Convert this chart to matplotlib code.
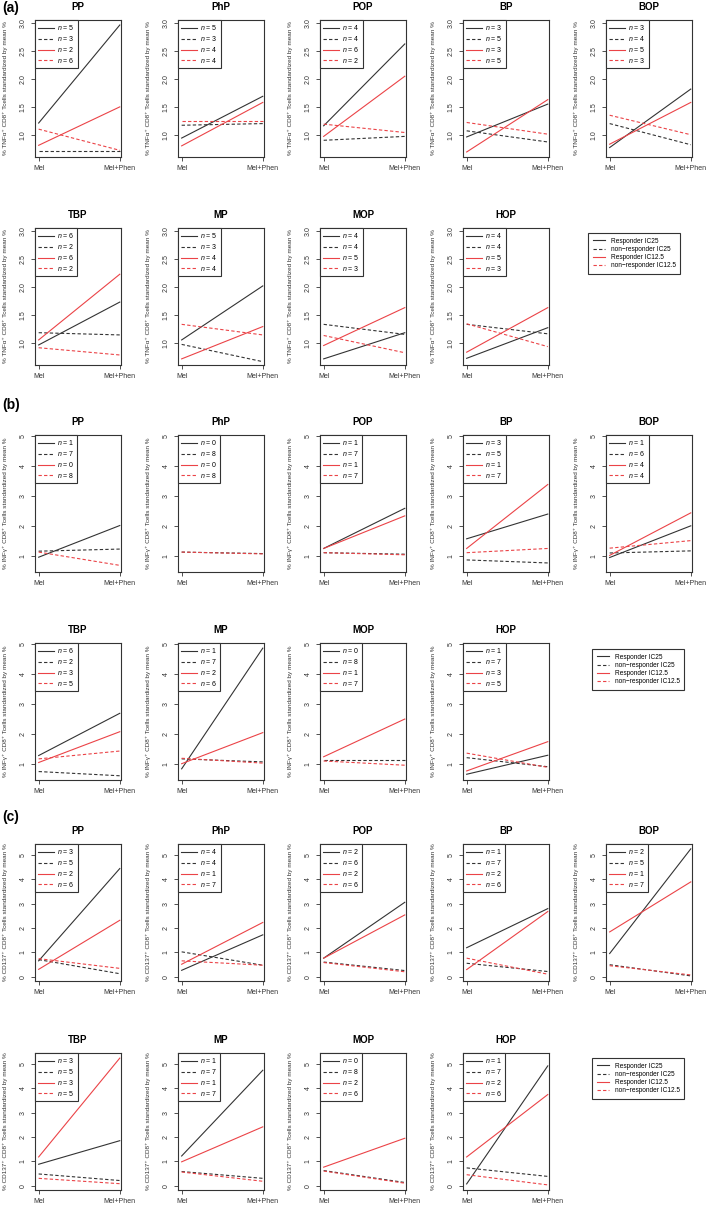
import numpy as np
import matplotlib
matplotlib.use('Agg')
from matplotlib import pyplot as plt
from matplotlib.lines import Line2D

plt.rcParams['font.family'] = ['Liberation Sans', 'DejaVu Sans']
plt.rcParams['mathtext.fontset'] = 'custom'
plt.rcParams['mathtext.rm'] = 'Liberation Sans'
plt.rcParams['mathtext.it'] = 'Liberation Sans:italic'

panels = ['PP', 'PhP', 'POP', 'BP', 'BOP', 'TBP', 'MP', 'MOP', 'HOP']
conds = ['Mel', 'Mel+Phen']
group_names = ['Responder IC25', 'non\u2212responder IC25',
               'Responder IC12.5', 'non\u2212responder IC12.5']

# (a) TNFa, (Mel, Mel+Phen) per panel
tnf_r25 = [(1.21, 2.97), (0.94, 1.69), (1.16, 2.63), (0.96, 1.55), (0.77, 1.82),
           (0.96, 1.73), (1.05, 2.02), (0.71, 1.18), (0.72, 1.27)]
tnf_nr25 = [(0.70, 0.70), (1.17, 1.20), (0.90, 0.97), (1.07, 0.87), (1.20, 0.82),
            (1.18, 1.14), (0.97, 0.66), (1.33, 1.15), (1.33, 1.16)]
tnf_r125 = [(0.81, 1.50), (0.80, 1.58), (0.97, 2.05), (0.69, 1.63), (0.83, 1.58),
            (1.05, 2.23), (0.71, 1.29), (0.95, 1.63), (0.83, 1.63)]
tnf_nr125 = [(1.10, 0.72), (1.25, 1.25), (1.19, 1.04), (1.22, 1.01), (1.35, 1.00),
             (0.91, 0.78), (1.33, 1.14), (1.13, 0.82), (1.34, 0.93)]
tnf_n = [(5, 3, 2, 6), (5, 3, 4, 4), (4, 4, 6, 2), (3, 5, 3, 5), (3, 4, 5, 3),
         (6, 2, 6, 2), (5, 3, 4, 4), (4, 4, 5, 3), (4, 4, 5, 3)]

# (b) INFg
inf_r25 = [(0.97, 2.02), None, (1.26, 2.59), (1.58, 2.40), (0.96, 2.01),
           (1.29, 2.69), (0.85, 4.85), None, (0.67, 1.30)]
inf_nr25 = [(1.17, 1.24), (1.14, 1.09), (1.12, 1.07), (0.88, 0.78), (1.11, 1.18),
            (0.76, 0.62), (1.18, 1.08), (1.15, 1.15), (1.22, 0.92)]
inf_r125 = [None, None, (1.26, 2.34), (1.26, 3.38), (1.03, 2.44),
            (1.06, 2.08), (1.02, 2.05), (1.25, 2.50), (0.78, 1.75)]
inf_nr125 = [(1.14, 0.70), (1.14, 1.08), (1.12, 1.05), (1.12, 1.26), (1.27, 1.52),
             (1.18, 1.44), (1.20, 1.04), (1.11, 0.97), (1.37, 0.90)]
inf_n = [(1, 7, 0, 8), (0, 8, 0, 8), (1, 7, 1, 7), (3, 5, 1, 7), (1, 6, 4, 4),
         (6, 2, 3, 5), (1, 7, 2, 6), (0, 8, 1, 7), (1, 7, 3, 5)]

# (c) CD137
cd_r25 = [(0.65, 4.45), (0.26, 1.72), (0.76, 3.06), (1.19, 2.80), (0.95, 5.26),
          (0.88, 1.85), (1.22, 4.75), None, (0.07, 4.93)]
cd_nr25 = [(0.70, 0.12), (1.02, 0.47), (0.60, 0.25), (0.55, 0.21), (0.49, 0.03),
           (0.48, 0.21), (0.58, 0.30), (0.62, 0.13), (0.73, 0.38)]
cd_r125 = [(0.30, 2.32), (0.51, 2.23), (0.76, 2.54), (0.29, 2.68), (1.84, 3.90),
           (1.18, 5.25), (0.98, 2.42), (0.76, 1.95), (1.18, 3.75)]
cd_nr125 = [(0.74, 0.34), (0.65, 0.47), (0.58, 0.20), (0.76, 0.10), (0.45, 0.07),
            (0.30, 0.08), (0.56, 0.18), (0.60, 0.10), (0.45, 0.03)]
cd_n = [(3, 5, 2, 6), (4, 4, 1, 7), (2, 6, 2, 6), (1, 7, 2, 6), (2, 5, 1, 7),
        (3, 5, 3, 5), (1, 7, 1, 7), (0, 8, 2, 6), (1, 7, 2, 6)]

W, H = 709, 1205
RED = '#eb4347'
DARK = '#333333'
styles = [(DARK, '-'), (DARK, (0, (3, 2))), (RED, '-'), (RED, (0, (3, 2)))]
col_left = [35, 178, 320, 463, 606]
box_w, box_h = 86, 137

fig = plt.figure(figsize=(W / 100, H / 100), dpi=100)


def handles(lw=0.8):
    return [Line2D([], [], color=c, ls=ls, lw=lw) for c, ls in styles]


def section(tag, tag_y, row_tops, ylim, yticks, yfmt, ylabel, series, ns, leg_xy):
    fig.text(2 / W, 1 - tag_y / H, tag, fontsize=10, fontweight='bold', va='center')
    x = np.array([1, 2])
    for i, name in enumerate(panels):
        r, c = divmod(i, 5)
        top = row_tops[r]
        ax = fig.add_axes([col_left[c] / W, 1 - (top + box_h) / H, box_w / W, box_h / H])
        for k, s in enumerate(series):
            if s[i] is None:
                continue
            col, ls = styles[k]
            ax.plot(x, s[i], color=col, ls=ls, lw=0.8)
        ax.set_xlim(0.955, 2.015)
        ax.set_ylim(*ylim)
        ax.set_xticks([1, 2])
        ax.set_xticklabels(conds)
        ax.set_yticks(yticks)
        ax.set_yticklabels([yfmt.format(v) for v in yticks], rotation=90, va='center')
        ax.tick_params(direction='out', length=3, width=0.6, labelsize=5, pad=3,
                       colors=DARK)
        for sp in ax.spines.values():
            sp.set_color(DARK)
            sp.set_linewidth(0.8)
        ax.set_title(name, fontsize=7, fontweight='bold', pad=7)
        ax.set_ylabel(ylabel, fontsize=4.6, color=DARK)
        ax.yaxis.set_label_coords(-0.31, 0.5)
        leg = ax.legend(handles(), ['$n$ = %d' % v for v in ns[i]], loc='upper left',
                        bbox_to_anchor=(0, 1), borderaxespad=0, fontsize=5,
                        fancybox=False, edgecolor=DARK, framealpha=1,
                        handlelength=2.2, handletextpad=0.4, labelspacing=0.25,
                        borderpad=0.5)
        leg.get_frame().set_linewidth(0.8)
    leg = fig.legend(handles(), group_names, loc='upper left',
                     bbox_to_anchor=(leg_xy[0] / W, 1 - leg_xy[1] / H),
                     borderaxespad=0, fontsize=4.7, fancybox=False, edgecolor=DARK,
                     framealpha=1, handlelength=1.9, handletextpad=0.9,
                     labelspacing=0.2, borderpad=0.7)
    leg.get_frame().set_linewidth(0.8)


section('(a)', 8, [20, 228], (0.6, 3.06), [1.0, 1.5, 2.0, 2.5, 3.0], '{:.1f}',
        '% TNF\u03b1\u207a CD8\u207a Tcells standardized by mean %',
        [tnf_r25, tnf_nr25, tnf_r125, tnf_nr125], tnf_n, (588, 233))
section('(b)', 405, [435, 643], (0.48, 5.02), [1, 2, 3, 4, 5], '{:d}',
        '% INF\u03b3\u207a CD8\u207a Tcells standardized by mean %',
        [inf_r25, inf_nr25, inf_r125, inf_nr125], inf_n, (592, 649))
section('(c)', 817, [844, 1053], (-0.18, 5.46), [0, 1, 2, 3, 4, 5], '{:d}',
        '% CD137\u207a CD8\u207a Tcells standardized by mean %',
        [cd_r25, cd_nr25, cd_r125, cd_nr125], cd_n, (592, 1058))

fig.savefig('out.png', dpi=100)
